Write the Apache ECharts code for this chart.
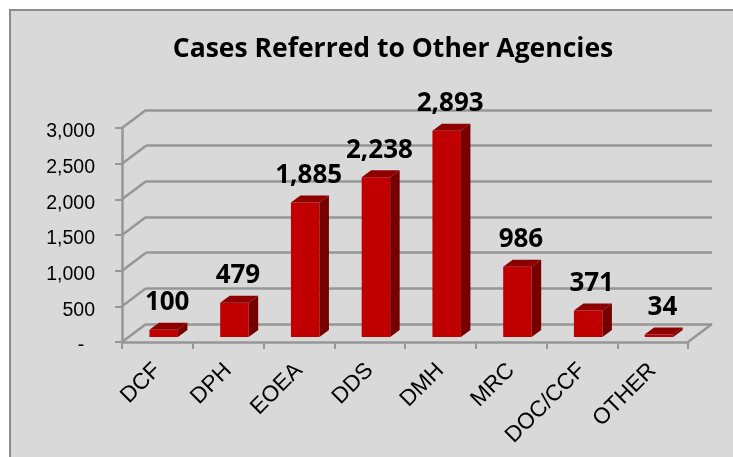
<!DOCTYPE html>
<html lang="en">
<head>
    <meta charset="UTF-8">
    <title>Cases Referred to Other Agencies</title>
    <script src="https://cdn.jsdelivr.net/npm/echarts@6/dist/echarts.min.js"></script>
    <style type="text/css">
        html,body{margin:0;padding:0;background:#fff;}
        #main{width:733px;height:457px;}
    </style>
</head>
<body>
<div id="main"></div>
<script type="text/javascript">
    var categories = ['DCF', 'DPH', 'EOEA', 'DDS', 'DMH', 'MRC', 'DOC/CCF', 'OTHER'];
    var cases = [100, 479, 1885, 2238, 2893, 986, 371, 34];
    var yTicks = [0, 500, 1000, 1500, 2000, 2500, 3000];

    // 3d look: back wall sits up and right of the front plane
    var wallDx = 24, wallDy = -18;
    var barDx = 9.5, barDy = -7, barWidth = 28.5;
    var barShiftX = 6.3, barShiftY = -5;
    var lineColor = '#969696';

    var myChart = echarts.init(document.getElementById('main'));

    function renderBar(params, api) {
        var top = api.coord([api.value(0), api.value(1)]);
        var base = api.coord([api.value(0), 0]);
        var x = top[0] + barShiftX - barWidth / 2;
        var x2 = x + barWidth;
        var y = top[1] + barShiftY;
        var y2 = base[1] + barShiftY;
        return {
            type: 'group',
            children: [
                {type: 'rect', shape: {x: x, y: y, width: barWidth, height: y2 - y},
                    style: {fill: '#c00000'}},
                {type: 'polygon', shape: {points: [[x, y], [x + barDx, y + barDy], [x2 + barDx, y + barDy], [x2, y]]},
                    style: {fill: '#8e0000'}},
                {type: 'polygon', shape: {points: [[x2, y], [x2 + barDx, y + barDy], [x2 + barDx, y2 + barDy], [x2, y2]]},
                    style: {fill: '#760000'}},
                {type: 'text', x: x + barWidth / 2 + 3.5, y: y + barDy - 7,
                    style: {text: echarts.format.addCommas(api.value(1)), fill: '#000',
                        font: 'bold 26px "Open Sans"', align: 'center', verticalAlign: 'bottom'}}
            ]
        };
    }

    // diagonal from the left axis back to the wall, one per tick
    function renderSide(params, api) {
        var p = api.coord([0, api.value(0)]);
        var x = params.coordSys.x;
        return {
            type: 'line',
            shape: {x1: x, y1: p[1], x2: x + wallDx, y2: p[1] + wallDy},
            style: {stroke: lineColor, lineWidth: 2.5}
        };
    }

    // right edge of the floor
    function renderFloorEdge(params, api) {
        var p = api.coord([0, 0]);
        var x = params.coordSys.x + params.coordSys.width;
        return {
            type: 'line',
            shape: {x1: x, y1: p[1], x2: x + wallDx, y2: p[1] + wallDy},
            style: {stroke: lineColor, lineWidth: 2.5}
        };
    }

    var option = {
        backgroundColor: '#d9d9d9',
        animation: false,
        title: {
            text: 'Cases Referred to Other Agencies',
            left: 388, top: 31, textAlign: 'center',
            textStyle: {fontFamily: 'Open Sans', fontWeight: 'bold', fontSize: 26.5, color: '#000'}
        },
        grid: [
            {left: 122, top: 128, width: 566, height: 214},
            {left: 146, top: 110, width: 566, height: 214}
        ],
        xAxis: [
            {type: 'category', gridIndex: 0, data: categories,
                axisLine: {lineStyle: {color: lineColor, width: 2.5}},
                axisTick: {show: true, length: 7, lineStyle: {color: lineColor, width: 2}},
                axisLabel: {rotate: 45, margin: 25, interval: 0, fontFamily: 'Liberation Sans', fontSize: 22.5, color: '#000'}},
            {type: 'category', gridIndex: 1, data: categories, show: false}
        ],
        yAxis: [
            {type: 'value', gridIndex: 0, min: 0, max: 3000, interval: 500,
                axisLine: {show: true, lineStyle: {color: lineColor, width: 2.5}},
                axisTick: {show: true, length: 7, lineStyle: {color: lineColor, width: 2}},
                splitLine: {show: false},
                axisLabel: {margin: 27, verticalAlign: 'top', lineHeight: 8, fontFamily: 'Liberation Sans', fontSize: 19.5, color: '#000',
                    formatter: function (v) { return v === 0 ? '-  ' : echarts.format.addCommas(v); }}},
            {type: 'value', gridIndex: 1, min: 0, max: 3000, interval: 500,
                axisLine: {show: false}, axisTick: {show: false}, axisLabel: {show: false},
                splitLine: {show: true, lineStyle: {color: lineColor, width: 2.5}}}
        ],
        series: [
            {type: 'custom', xAxisIndex: 0, yAxisIndex: 0, renderItem: renderSide, z: 1,
                data: yTicks, encode: {y: 0}},
            {type: 'custom', xAxisIndex: 0, yAxisIndex: 0, renderItem: renderFloorEdge, z: 1,
                data: [0], encode: {y: 0}},
            {type: 'custom', xAxisIndex: 0, yAxisIndex: 0, renderItem: renderBar, z: 3,
                data: cases.map(function (v, i) { return [i, v]; }), encode: {x: 0, y: 1}}
        ],
        graphic: [
            {type: 'rect', z: 100, silent: true,
                shape: {x: -20, y: -20, width: 30, height: 500}, style: {fill: '#fff'}},
            {type: 'rect', z: 100, silent: true,
                shape: {x: -20, y: -20, width: 780, height: 30}, style: {fill: '#fff'}},
            {type: 'polyline', z: 101, silent: true,
                shape: {points: [[10, 457], [10, 10], [733, 10]]},
                style: {stroke: '#8c8c8c', lineWidth: 2, fill: null}}
        ]
    };
    myChart.setOption(option);
</script>
</body>
</html>
